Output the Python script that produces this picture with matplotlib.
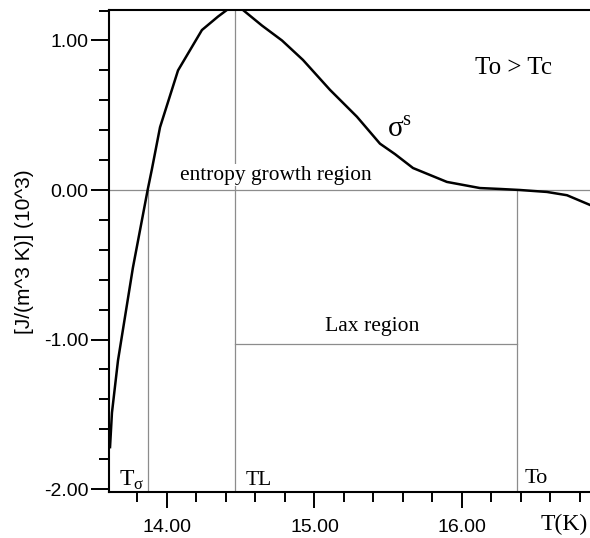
import matplotlib.pyplot as plt
from matplotlib.ticker import MultipleLocator, FormatStrFormatter

plt.rcParams['mathtext.fontset'] = 'custom'
plt.rcParams['mathtext.rm'] = 'Liberation Serif'

# sigma^s curve
temp = [13.614, 13.627, 13.668, 13.769, 13.869, 13.898, 13.953, 14.075, 14.237,
        14.346, 14.414, 14.461, 14.508, 14.644, 14.780, 14.922, 15.105, 15.288,
        15.444, 15.546, 15.668, 15.898, 16.122, 16.258, 16.393, 16.576, 16.712,
        16.868]
sigma = [-1.72, -1.49, -1.14, -0.52, 0.00, 0.14, 0.42, 0.80, 1.07,
         1.16, 1.21, 1.225, 1.21, 1.10, 1.00, 0.87, 0.67, 0.49,
         0.31, 0.24, 0.147, 0.054, 0.013, 0.007, 0.0, -0.013, -0.035,
         -0.10]

t_sigma, t_l, t_o = 13.87, 14.46, 16.37
lax_level = -1.03

serif = 'Liberation Serif'
sans = 'Liberation Sans'
grey = '#8c8c8c'

fig = plt.figure(figsize=(5.9, 5.38), dpi=100)
ax = fig.add_axes([109 / 590, 1 - 492 / 538, 1 - 109 / 590, (492 - 10) / 538])

ax.plot(temp, sigma, color='black', lw=1.8, zorder=3)

# reference lines
ax.axhline(0, color=grey, lw=0.9, zorder=1)
ax.plot([t_sigma, t_sigma], [0, -2.1], color=grey, lw=0.9, zorder=1)
ax.plot([t_l, t_l], [-2.1, 1.3], color=grey, lw=0.9, zorder=1)
ax.plot([t_o, t_o], [0, -2.1], color=grey, lw=0.9, zorder=1)
ax.plot([t_l, t_o], [lax_level, lax_level], color=grey, lw=0.9, zorder=1)

ax.set_xlim(13.607, 16.868)
ax.set_ylim(-2.02, 1.204)

ax.xaxis.set_major_locator(MultipleLocator(1.0))
ax.xaxis.set_minor_locator(MultipleLocator(0.2))
ax.yaxis.set_major_locator(MultipleLocator(1.0))
ax.yaxis.set_minor_locator(MultipleLocator(0.2))
ax.xaxis.set_major_formatter(FormatStrFormatter('%.2f'))
ax.yaxis.set_major_formatter(FormatStrFormatter('%.2f'))

ax.tick_params(axis='both', which='major', width=1.4, labelsize=14)
ax.tick_params(axis='y', which='major', length=13, pad=2)
ax.tick_params(axis='x', which='major', length=11.5, pad=8)
ax.tick_params(axis='both', which='minor', width=1.4, length=7)
for lab in ax.get_xticklabels() + ax.get_yticklabels():
    lab.set_fontfamily(sans)

for side in ['left', 'bottom', 'top']:
    ax.spines[side].set_linewidth(1.5)
ax.spines['right'].set_visible(False)

ax.set_ylabel('[J/(m^3 K)] (10^3)', fontfamily=sans, fontsize=15)
ax.yaxis.set_label_coords(-0.155, 0.498)

ax.text(16.346, 0.816, 'To > Tc', fontfamily=serif, fontsize=18,
        ha='center', va='center')
ax.text(15.575, 0.41, r'$\mathrm{σ}^{\mathrm{s}}$', fontsize=21,
        ha='center', va='center')
ax.text(14.739, 0.10, 'entropy growth region', fontfamily=serif, fontsize=15.4,
        ha='center', va='center', zorder=2,
        bbox=dict(facecolor='white', edgecolor='none', pad=1))
ax.text(15.39, -0.916, 'Lax region', fontfamily=serif, fontsize=15.6,
        ha='center', va='center')
ax.text(13.675, -1.94, r'$\mathrm{T}_{\mathrm{σ}}$', fontsize=17,
        ha='left', va='center')
ax.text(14.536, -1.94, 'TL', fontfamily=serif, fontsize=15.5,
        ha='left', va='center')
ax.text(16.427, -1.93, 'To', fontfamily=serif, fontsize=16,
        ha='left', va='center')
ax.text(16.53, -2.24, 'T(K)', fontfamily=serif, fontsize=17,
        ha='left', va='center', clip_on=False)

fig.savefig('out.png', dpi=100)
